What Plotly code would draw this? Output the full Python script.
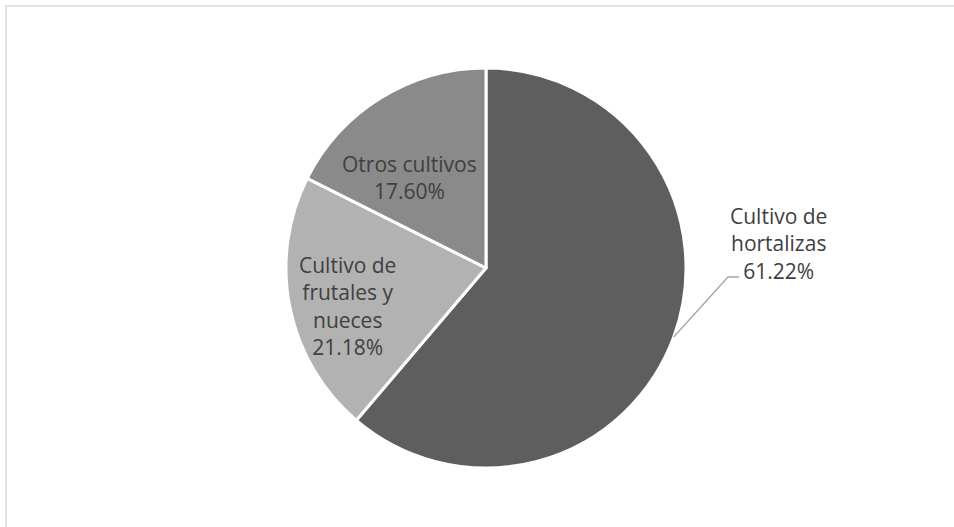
import math
import plotly.graph_objects as go

categories = ["Cultivo de hortalizas", "Cultivo de frutales y nueces", "Otros cultivos"]
values = [61.22, 21.18, 17.60]
colors = ["#5e5e5e", "#b2b2b2", "#8a8a8a"]
label_text = ["Cultivo de<br>hortalizas<br>{:.2f}%", "Cultivo de<br>frutales y<br>nueces<br>{:.2f}%", "Otros cultivos<br>{:.2f}%"]

W, H = 954, 527
cx, cy, R = 486, 268, 200

def px(x):
    return x / W

def py(y):
    return 1 - y / H

fig = go.Figure(go.Pie(
    labels=categories,
    values=values,
    sort=False,
    direction="clockwise",
    rotation=0,
    marker=dict(colors=colors, line=dict(color="white", width=3)),
    textinfo="none",
    hoverinfo="label+percent",
    showlegend=False,
    domain=dict(x=[px(cx - R), px(cx + R)], y=[py(cy + R), py(cy - R)]),
))

font = dict(family="Open Sans, Liberation Sans, sans-serif", size=21, color="#404040")
label_pos = [(778, 243), (347, 306), (409, 177)]
anns = []
for txt, v, (lx, ly) in zip(label_text, values, label_pos):
    anns.append(dict(x=px(lx), y=py(ly), xref="paper", yref="paper", text=txt.format(v),
                     showarrow=False, font=font, align="center", xanchor="center", yanchor="middle"))

# leader line for the outside label, starting at the slice mid-angle on the rim
total = sum(values)
mid = values[0] / 2 / total * 2 * math.pi
sx, sy = cx + R * math.sin(mid), cy - R * math.cos(mid)
bend = (728, 277)
end = (739, 277)
shapes = [
    dict(type="path", xref="paper", yref="paper",
         path=f"M {px(sx)} {py(sy)} L {px(bend[0])} {py(bend[1])} L {px(end[0])} {py(end[1])}",
         line=dict(color="#a6a6a6", width=1.3)),
    dict(type="rect", xref="paper", yref="paper", x0=px(6), x1=1.05, y0=-0.05, y1=py(6),
         line=dict(color="#d9d9d9", width=1.5)),
]

fig.update_layout(
    width=W, height=H,
    margin=dict(l=0, r=0, t=0, b=0),
    paper_bgcolor="white", plot_bgcolor="white",
    annotations=anns, shapes=shapes,
)
fig.write_html("out.html")
